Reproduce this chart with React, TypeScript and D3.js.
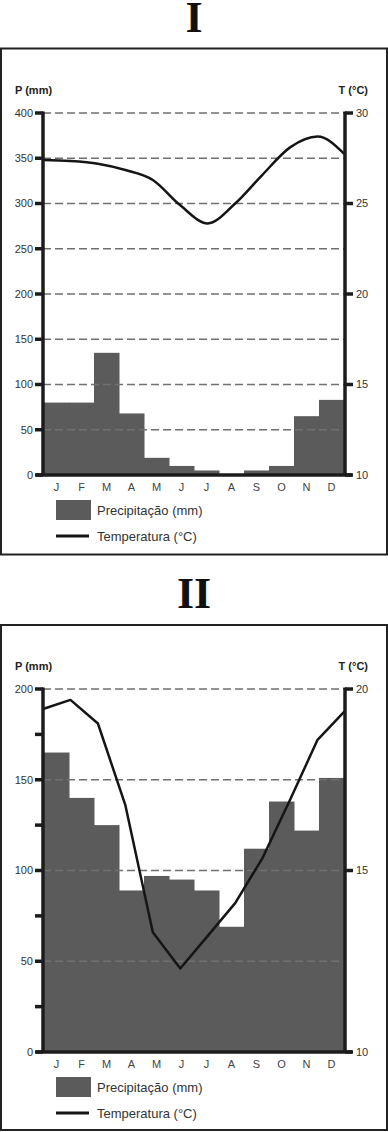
import React from 'react';
import * as d3 from 'd3';

const MONTHS_I = ['J', 'F', 'M', 'A', 'M', 'J', 'J', 'A', 'S', 'O', 'N', 'D'];
const MONTHS_II = ['J', 'F', 'M', 'A', 'M', 'J', 'J', 'A', 'S', 'O', 'N', 'D'];

const PRECIP_I = [80, 80, 135, 68, 19, 10, 5, 0, 5, 10, 65, 83];
const TEMP_I = [27.4, 27.35, 27.2, 26.85, 26.3, 24.9, 23.9, 25.0, 26.6, 28.1, 28.7, 27.7];

const PRECIP_II = [165, 140, 125, 89, 97, 95, 89, 69, 112, 138, 122, 151];
const TEMP_II = [19.45, 19.7, 19.05, 16.8, 13.3, 12.3, 13.2, 14.1, 15.35, 16.95, 18.6, 19.4];

const P_TICKS_I = [0, 50, 100, 150, 200, 250, 300, 350, 400];
const P_LABELS_I = [0, 50, 100, 150, 200, 250, 300, 350, 400];
const T_TICKS_I = [10, 15, 20, 25, 30];

const P_TICKS_II = [0, 25, 50, 75, 100, 125, 150, 175, 200];
const P_LABELS_II = [0, 50, 100, 150, 200];
const T_TICKS_II = [10, 15, 20];

const FONT = '"Liberation Sans", Arial, sans-serif';
const BAR = '#5b5b5b';
const AXIS = '#1c1c1c';

type PanelProps = {
  title: string;
  titleY: number;
  boxY: number;
  boxH: number;
  yTop: number;
  y0: number;
  pMax: number;
  tMin: number;
  tMax: number;
  months: string[];
  precip: number[];
  temp: number[];
  pTicks: number[];
  pLabels: number[];
  tTicks: number[];
  curve: d3.CurveFactory;
};

function Panel(p: PanelProps) {
  const xL = 43;
  const xR = 345;
  const x = d3.scaleBand<number>().domain(d3.range(12)).range([44, 344]).padding(0);
  const xp = d3.scalePoint<number>().domain(d3.range(12)).range([xL, xR]).padding(0);
  const yP = d3.scaleLinear().domain([0, p.pMax]).range([p.y0, p.yTop]);
  const yT = d3.scaleLinear().domain([p.tMin, p.tMax]).range([p.y0, p.yTop]);
  const line = d3
    .line<number>()
    .x((_, i) => xp(i) as number)
    .y((d) => yT(d))
    .curve(p.curve);
  const grid = p.pLabels.filter((v) => v > 0);
  const legY = p.y0 + 25;
  return (
    <g>
      <text
        x={194}
        y={p.titleY}
        textAnchor="middle"
        fontFamily='"Liberation Serif", "Times New Roman", serif'
        fontWeight="bold"
        fontSize={44}
        fill="#111"
      >
        {p.title}
      </text>
      <rect x={1} y={p.boxY} width={386} height={p.boxH} fill="#fff" stroke="#222" strokeWidth={2} />
      <text x={15} y={p.yTop - 19} fontFamily={FONT} fontSize={11} fontWeight="bold" fill="#222">
        P (mm)
      </text>
      <text x={368} y={p.yTop - 19} textAnchor="end" fontFamily={FONT} fontSize={11} fontWeight="bold" fill="#222">
        T (°C)
      </text>
      {p.precip.map((v, i) => (
        <rect key={i} x={x(i)} y={yP(v)} width={x.bandwidth() + 0.5} height={p.y0 - yP(v)} fill={BAR} />
      ))}
      {grid.map((v) => (
        <line
          key={v}
          x1={xL}
          x2={xR}
          y1={yP(v)}
          y2={yP(v)}
          stroke="#707070"
          strokeWidth={1.5}
          strokeDasharray="8 4"
        />
      ))}
      <path d={line(p.temp) || ''} fill="none" stroke="#151515" strokeWidth={2.5} strokeLinejoin="round" />
      <line x1={xL} x2={xL} y1={p.yTop - 1.5} y2={p.y0} stroke={AXIS} strokeWidth={3.5} />
      <line x1={xR} x2={xR} y1={p.yTop - 1.5} y2={p.y0} stroke={AXIS} strokeWidth={3.5} />
      <line x1={36} x2={352} y1={p.y0} y2={p.y0} stroke={AXIS} strokeWidth={3.5} />
      {p.pTicks.map((v) => (
        <line key={v} x1={35} x2={xL} y1={yP(v)} y2={yP(v)} stroke={AXIS} strokeWidth={3.5} />
      ))}
      {p.pLabels.map((v) => (
        <text
          key={v}
          x={33}
          y={yP(v)}
          dy="0.35em"
          textAnchor="end"
          fontFamily={FONT}
          fontSize={11}
          fill="#333"
        >
          {v}
        </text>
      ))}
      {p.tTicks.map((v) => (
        <g key={v}>
          <line x1={xR} x2={353} y1={yT(v)} y2={yT(v)} stroke={AXIS} strokeWidth={3.5} />
          <text x={356} y={yT(v)} dy="0.35em" fontFamily={FONT} fontSize={11} fill="#333">
            {v}
          </text>
        </g>
      ))}
      {p.months.map((m, i) => (
        <text
          key={i}
          x={(x(i) as number) + x.bandwidth() / 2}
          y={p.y0 + 16}
          textAnchor="middle"
          fontFamily={FONT}
          fontSize={11}
          fill="#444"
        >
          {m}
        </text>
      ))}
      <rect x={56} y={legY} width={35} height={20} fill={BAR} />
      <text x={97} y={legY + 15} fontFamily={FONT} fontSize={13} fill="#333">
        Precipitação (mm)
      </text>
      <line x1={56} x2={89} y1={legY + 36} y2={legY + 36} stroke="#151515" strokeWidth={3} />
      <text x={97} y={legY + 41} fontFamily={FONT} fontSize={13} fill="#333">
        Temperatura (°C)
      </text>
    </g>
  );
}

export default function App() {
  return (
    <svg
      width={388}
      height={1132}
      style={{ position: 'absolute', left: 0, top: 0, display: 'block', background: '#fff' }}
    >
      <rect x={0} y={0} width={388} height={1132} fill="#fff" />
      <Panel
        title="I"
        titleY={32}
        boxY={48.5}
        boxH={506}
        yTop={113}
        y0={475}
        pMax={400}
        tMin={10}
        tMax={30}
        months={MONTHS_I}
        precip={PRECIP_I}
        temp={TEMP_I}
        pTicks={P_TICKS_I}
        pLabels={P_LABELS_I}
        tTicks={T_TICKS_I}
        curve={d3.curveMonotoneX}
      />
      <Panel
        title="II"
        titleY={608}
        boxY={625}
        boxH={505}
        yTop={689}
        y0={1052}
        pMax={200}
        tMin={10}
        tMax={20}
        months={MONTHS_II}
        precip={PRECIP_II}
        temp={TEMP_II}
        pTicks={P_TICKS_II}
        pLabels={P_LABELS_II}
        tTicks={T_TICKS_II}
        curve={d3.curveLinear}
      />
    </svg>
  );
}
